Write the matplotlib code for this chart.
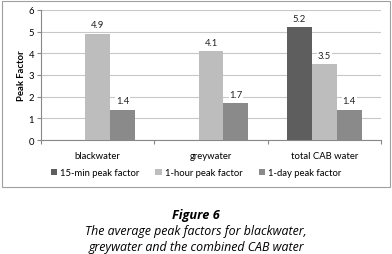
import matplotlib
matplotlib.use("Agg")
import matplotlib.pyplot as plt
from matplotlib.patches import Rectangle
import numpy as np

categories = ["blackwater", "greywater", "total CAB water"]
series_names = ["15-min peak factor", "1-hour peak factor", "1-day peak factor"]
min15 = [0, 0, 5.2]
hour1 = [4.9, 4.1, 3.5]
day1 = [1.4, 1.7, 1.4]
colors = ["#5e5e5e", "#bdbdbd", "#8a8a8a"]

plt.rcParams['font.family'] = ['Lato', 'DejaVu Sans']

fig = plt.figure(figsize=(3.92, 2.55), dpi=100)
fig.patches.append(Rectangle((0.005, 0.263), 0.99, 0.729, transform=fig.transFigure,
                             fill=False, edgecolor="#a0a0a0", linewidth=0.8))

ax = fig.add_axes([0.1046, 0.447, 0.8674, 0.510])
x = np.arange(len(categories))
w = 0.22
for i, (vals, c, name) in enumerate(zip([min15, hour1, day1], colors, series_names)):
    pos = x + (i - 1) * w
    ax.bar(pos, vals, w, color=c, label=name, zorder=3)
    for p, v in zip(pos, vals):
        if v > 0:
            ax.text(p, v + 0.2, f"{v:.1f}", ha="center", va="bottom", fontsize=6.8,
                    color="#222222", zorder=4,
                    bbox=dict(facecolor="white", edgecolor="none", pad=0.5))

ax.set_xlim(-0.5, 2.5)
ax.set_ylim(0, 6)
ax.set_yticks(range(7))
ax.yaxis.grid(True, color="#c8c8c8", linewidth=0.8, zorder=0)
ax.set_axisbelow(True)
ax.set_xticks([-0.5, 0.5, 1.5, 2.5])
ax.set_xticklabels([])
ax.set_xticks(x, minor=True)
ax.set_xticklabels(categories, minor=True, fontsize=6.8)
ax.tick_params(axis="x", which="minor", length=0, pad=8)
ax.tick_params(axis="x", which="major", length=3, color="#888888", direction="out")
ax.tick_params(axis="y", length=3, color="#888888", labelsize=6.8, pad=2)
for s in ["top", "right"]:
    ax.spines[s].set_visible(False)
ax.spines["left"].set_color("#888888")
ax.spines["bottom"].set_color("#888888")
ax.set_ylabel("Peak Factor", fontsize=6.8, fontweight="bold", labelpad=2)

fig.legend(loc="center", bbox_to_anchor=(0.5, 0.318), ncol=3, frameon=False,
           fontsize=6.8, handlelength=0.7, handleheight=0.7, handletextpad=0.3,
           columnspacing=1.7)

fig.text(0.5, 0.155, "Figure 6", ha="center", va="center", fontsize=9.2,
         fontweight="bold", style="italic", family=["Open Sans", "DejaVu Sans"])
fig.text(0.5, 0.092, "The average peak factors for blackwater,", ha="center", va="center",
         fontsize=8.9, style="italic", family=["Open Sans", "DejaVu Sans"])
fig.text(0.5, 0.030, "greywater and the combined CAB water", ha="center", va="center",
         fontsize=8.9, style="italic", family=["Open Sans", "DejaVu Sans"])

fig.savefig("out.png", dpi=100)
